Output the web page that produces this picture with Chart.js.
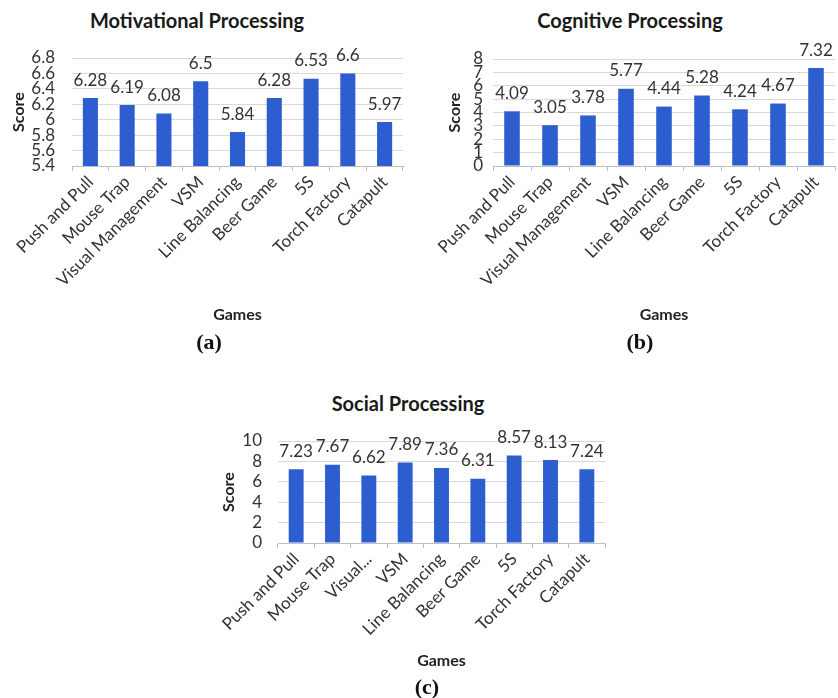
<!DOCTYPE html>
<html>
<head>
<meta charset="utf-8">
<script src="https://cdn.jsdelivr.net/npm/chart.js@4.4.1/dist/chart.umd.min.js"></script>
<style>
  html, body { margin: 0; padding: 0; background: #fff; overflow: hidden; }
  #page { position: relative; width: 838px; height: 698px; }
  .box { position: absolute; }
  .ttl { position: absolute; width: 400px; text-align: center; font: bold 20px Lato, "Open Sans", sans-serif; line-height: 22px; color: #1a1a1a; }
  .cap { position: absolute; width: 100px; text-align: center; font: bold 22px "Liberation Serif", "DejaVu Serif", serif; line-height: 26px; color: #111; }
</style>
</head>
<body>
<div id="page">
  <div class="ttl" style="left:-3px; top:9px;">Motivational Processing</div>
  <div class="ttl" style="left:430px; top:9px;">Cognitive Processing</div>
  <div class="ttl" style="left:208px; top:392px;">Social Processing</div>

  <div class="box" style="left:0; top:0; width:418px; height:330px;"><canvas id="chartA"></canvas></div>
  <div class="box" style="left:420px; top:0; width:418px; height:330px;"><canvas id="chartB"></canvas></div>
  <div class="box" style="left:210px; top:380px; width:400px; height:300px;"><canvas id="chartC"></canvas></div>

  <div class="cap" style="left:159px; top:329px;">(a)</div>
  <div class="cap" style="left:590px; top:329px;">(b)</div>
  <div class="cap" style="left:377px; top:674px;">(c)</div>
</div>
<script>
// Games played and their mean scores per processing dimension
const games = ['Push and Pull', 'Mouse Trap', 'Visual Management', 'VSM', 'Line Balancing', 'Beer Game', '5S', 'Torch Factory', 'Catapult'];
const gamesSocial = ['Push and Pull', 'Mouse Trap', 'Visual...', 'VSM', 'Line Balancing', 'Beer Game', '5S', 'Torch Factory', 'Catapult'];

const motivational = [6.28, 6.19, 6.08, 6.5, 5.84, 6.28, 6.53, 6.6, 5.97];
const cognitive = [4.09, 3.05, 3.78, 5.77, 4.44, 5.28, 4.24, 4.67, 7.32];
const social = [7.23, 7.67, 6.62, 7.89, 7.36, 6.31, 8.57, 8.13, 7.24];

// Value-axis tick values
const ticksMotivational = [5.4, 5.6, 5.8, 6, 6.2, 6.4, 6.6, 6.8];
const ticksCognitive = [0, 1, 2, 3, 4, 5, 6, 7, 8];
const ticksSocial = [0, 2, 4, 6, 8, 10];

const FONT = 'Lato, "Open Sans", sans-serif';
const BAR = '#2d5ecf';
const TEXT = '#333333';

// Writes each bar's value just above it
const valueLabels = {
  id: 'valueLabels',
  afterDatasetsDraw(chart) {
    const ctx = chart.ctx;
    const meta = chart.getDatasetMeta(0);
    const data = chart.data.datasets[0].data;
    ctx.save();
    ctx.font = '17px ' + FONT;
    ctx.fillStyle = TEXT;
    ctx.textAlign = 'center';
    ctx.textBaseline = 'middle';
    meta.data.forEach((bar, i) => {
      ctx.fillText(String(data[i]), bar.x, bar.y - 18);
    });
    ctx.restore();
  }
};

function makeChart(id, labels, values, tickValues, cfg) {
  const fmt = v => String(+Number(v).toFixed(2));
  return new Chart(document.getElementById(id), {
    type: 'bar',
    data: {
      labels: labels,
      datasets: [{
        data: values,
        backgroundColor: BAR,
        borderWidth: 0,
        barPercentage: 0.41,
        categoryPercentage: 1.0
      }]
    },
    options: {
      responsive: true,
      maintainAspectRatio: false,
      animation: false,
      events: [],
      layout: { padding: { top: cfg.top, right: cfg.right, left: 0, bottom: 0 } },
      plugins: { legend: { display: false }, tooltip: { enabled: false }, title: { display: false } },
      scales: {
        x: {
          offset: true,
          grid: { display: true, drawOnChartArea: false, drawTicks: true, tickLength: 5, color: '#bfbfbf', offset: true },
          border: { display: true, color: '#bfbfbf', width: 1 },
          ticks: { autoSkip: false, minRotation: 45, maxRotation: 45, padding: 1, color: TEXT, font: { family: FONT, size: 17 } },
          title: { display: true, text: 'Games', color: '#222', font: { family: FONT, size: 16, weight: 'bold' }, padding: { top: 0, bottom: cfg.gamesPad } },
          afterFit(scale) { scale.height = cfg.xHeight; }
        },
        y: {
          min: tickValues[0],
          max: tickValues[tickValues.length - 1],
          grid: { color: '#d9d9d9', drawTicks: false },
          border: { display: false },
          ticks: { autoSkip: false, padding: cfg.tickPad, color: TEXT, font: { family: FONT, size: 17 }, callback: fmt },
          afterBuildTicks(scale) { scale.ticks = tickValues.map(v => ({ value: v })); },
          title: { display: true, text: 'Score', color: '#222', font: { family: FONT, size: 16, weight: 'bold' }, padding: { top: cfg.scorePad, bottom: 0 } },
          afterFit(scale) { scale.width = cfg.yWidth; }
        }
      }
    },
    plugins: [valueLabels]
  });
}

makeChart('chartA', games, motivational, ticksMotivational,
  { top: 58, right: 15, yWidth: 72, xHeight: 164, tickPad: 17, scorePad: 9, gamesPad: 6 });
makeChart('chartB', games, cognitive, ticksCognitive,
  { top: 59, right: 3, yWidth: 73, xHeight: 164, tickPad: 10, scorePad: 25, gamesPad: 6 });
makeChart('chartC', gamesSocial, social, ticksSocial,
  { top: 61, right: 5, yWidth: 68, xHeight: 137, tickPad: 16, scorePad: 9, gamesPad: 10 });
</script>
</body>
</html>
